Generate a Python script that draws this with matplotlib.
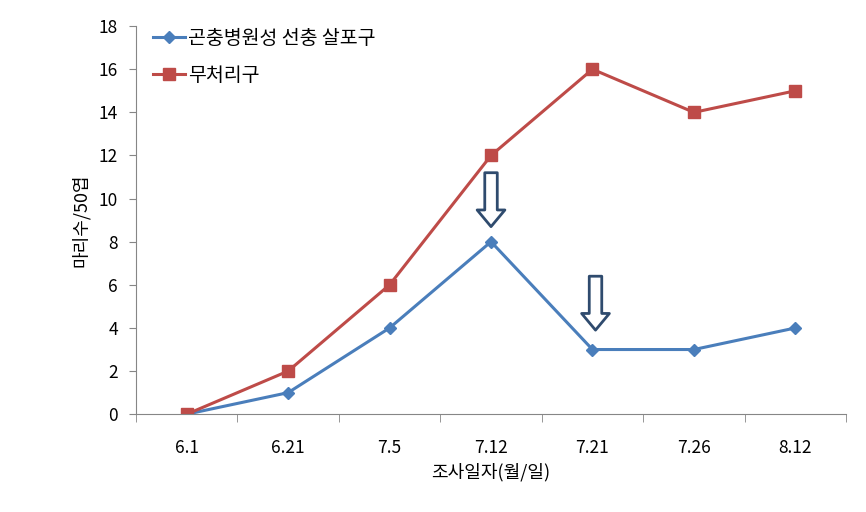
import matplotlib
matplotlib.use('Agg')
import matplotlib.pyplot as plt

plt.rcParams['font.family'] = ['Noto Sans CJK KR', 'DejaVu Sans']

# data
dates = ['6.1', '6.21', '7.5', '7.12', '7.21', '7.26', '8.12']
nematode = [0, 1, 4, 8, 3, 3, 4]
control = [0, 2, 6, 12, 16, 14, 15]
arrow_idx = [3, 4.03]
arrow_top = [11.2, 6.4]
arrow_tip = [8.7, 3.9]

fig = plt.figure(figsize=(8.66, 5.12), dpi=100)
ax = fig.add_axes([0.157, 0.191, 0.82, 0.758])

x = list(range(len(dates)))
ax.plot(x, nematode, color='#4A7EBB', lw=2.2, marker='D', ms=6.5,
        label='곤충병원성 선충 살포구')
ax.plot(x, control, color='#BE4B48', lw=2.2, marker='s', ms=8.5,
        label='무처리구')

for i, t, b in zip(arrow_idx, arrow_top, arrow_tip):
    ax.annotate('', xy=(i, b), xytext=(i, t),
                arrowprops=dict(arrowstyle='simple,head_length=0.6,head_width=1.0,tail_width=0.45',
                                mutation_scale=20, fc='white', ec='#2F4B6E', lw=2.0,
                                shrinkA=0, shrinkB=0))

ax.set_xlim(-0.5, len(dates) - 0.5)
ax.set_ylim(0, 18)
ax.set_yticks(range(0, 19, 2))
ax.set_xticks(x)
ax.set_xticklabels(dates)
ax.set_xticks([i + 0.5 for i in range(-1, len(dates))], minor=True)
ax.tick_params(axis='x', which='major', length=0, labelsize=12.5, pad=18)
ax.tick_params(axis='x', which='minor', length=6, color='#868686')
ax.tick_params(axis='y', length=5, color='#868686', labelsize=12.5, pad=8)

for s in ['top', 'right']:
    ax.spines[s].set_visible(False)
for s in ['left', 'bottom']:
    ax.spines[s].set_color('#868686')

ax.set_xlabel('조사일자(월/일)', fontsize=13, labelpad=4)
ax.set_ylabel('마리수/50엽', fontsize=13, labelpad=6)

ax.legend(loc='upper left', bbox_to_anchor=(0.0, 1.04), frameon=False,
          fontsize=14, handlelength=1.6, handletextpad=0.2, labelspacing=0.8)

fig.savefig('out.png', dpi=100)
